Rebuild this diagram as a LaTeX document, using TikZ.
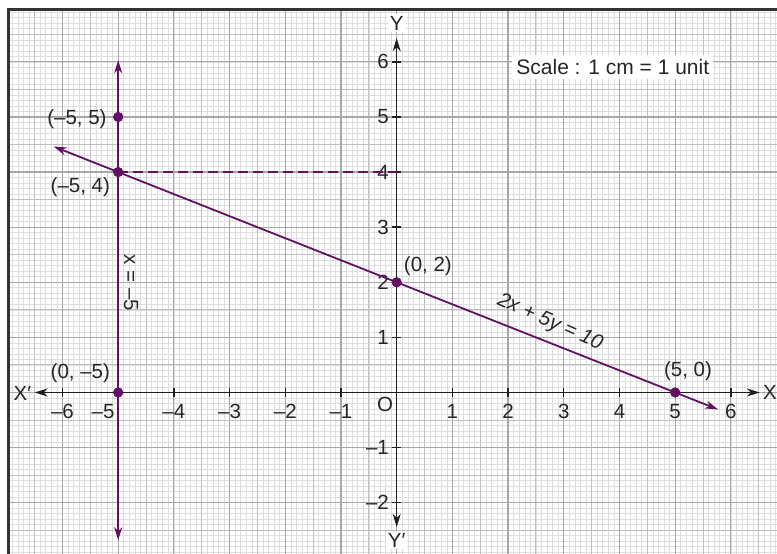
\documentclass[tikz,border=0pt]{standalone}
\usepackage{fontspec}
\setmainfont{Liberation Sans}
\usetikzlibrary{arrows.meta}
\definecolor{pur}{RGB}{98,16,98}
\definecolor{gminor}{RGB}{222,222,222}
\definecolor{gmid}{RGB}{192,192,192}
\definecolor{gmajor}{RGB}{168,168,168}
\definecolor{frame}{RGB}{50,50,50}
\begin{document}
\begin{tikzpicture}[x=55.7pt,y=55.1pt,
  lbl/.style={font=\fontsize{20.5}{24}\selectfont, inner sep=1pt, text=black!85},
  dot/.style={circle, fill=pur, inner sep=0pt, minimum size=10pt},
  arrb/.style={{Stealth[length=13pt,width=8pt,inset=4pt]}-{Stealth[length=13pt,width=8pt,inset=4pt]}},
  purline/.style={pur, line width=1.8pt},
  axisline/.style={black!88, line width=1.6pt},
  tickline/.style={black!88, line width=1.4pt},
]
\useasboundingbox (-7.122,-2.931) rectangle (6.828,7.123);
% graph paper
\begin{scope}
\clip (-6.97,-2.931) rectangle (6.828,6.95);
\draw[gminor, line width=0.6pt, step=0.1] (-7,-3) grid (7,7);
\draw[gmid, line width=0.9pt, step=0.5] (-7,-3) grid (7,7);
\draw[gmajor, line width=1.2pt, step=1] (-7,-3) grid (7,7);
\end{scope}
\draw[frame, line width=2.4pt] (-6.97,-2.931) -- (-6.97,6.95) -- (6.828,6.95);

% axes
\coordinate (xl) at (-6.5,0);
\coordinate (xr) at (6.52,0);
\coordinate (yt) at (0,6.43);
\coordinate (yb) at (0,-2.44);
\draw[axisline, arrb] (xl) -- (xr);
\draw[axisline, arrb] (yb) -- (yt);
\foreach \i in {-6,-5,-4,-3,-2,-1,1,2,3,4,5,6}
  \draw[tickline] (\i,-0.08) -- (\i,0.08);
\foreach \j in {-2,-1,1,2,3,4,5,6}
  \draw[tickline] (-0.08,\j) -- (0.08,\j);

% tick labels
\foreach \i/\t in {-6/–6,-4/–4,-3/–3,-2/–2,-1/–1,1/1,2/2,3/3,4/4,5/5,6/6}
  \node[lbl] (tx\i) at (\i,-0.35) {\t};
\node[lbl] (tx-5) at (-5.27,-0.35) {–5};
\foreach \j/\t in {-2/–2,-1/–1,1/1,2/2,3/3,4/4,5/5,6/6}
  \node[lbl, anchor=east] (ty\j) at (-0.12,\j) {\t};
\node[lbl] (O) at (-0.21,-0.22) {O};

% axis names
\node[lbl] (X) at (6.7,0) {X};
\node[lbl] (Xp) at (-6.72,-0.02) {X′};
\node[lbl, fill=white, inner sep=2pt] (Y) at (0,6.7) {Y};
\node[lbl, fill=white, inner sep=2pt] (Yp) at (0,-2.68) {Y′};

% scale
\node[lbl, fill=white, inner sep=4pt, font=\fontsize{21}{25}\selectfont] (scale) at (3.88,5.91) {Scale : 1 cm = 1 unit};

% points
\node[dot] (p55) at (-5,5) {};
\node[dot] (p54) at (-5,4) {};
\node[dot] (p02) at (0,2) {};
\node[dot] (p50) at (5,0) {};
\node[dot] (p05) at (-5,0) {};
\coordinate (d04) at (0,4);

% lines
\coordinate (vt) at (-5,6.03);
\coordinate (vb) at (-5,-2.68);
\coordinate (lL) at (-6.16,4.464);
\coordinate (lR) at (5.77,-0.308);
\draw[purline, dash pattern=on 10pt off 5pt] (p54.center) -- (d04);
\draw[purline, arrb] (vb) -- (vt);
\draw[purline, arrb] (lL) -- (lR);

% redraw dots on top
\foreach \p in {p55,p54,p02,p50,p05}
  \fill[pur] (\p.center) circle[radius=5pt];

% labels
\node[lbl] (l55) at (-5.74,4.96) {(–5, 5)};
\node[lbl] (l54) at (-5.68,3.72) {(–5, 4)};
\node[lbl] (l02) at (0.56,2.30) {(0, 2)};
\node[lbl] (l50) at (5.23,0.39) {(5, 0)};
\node[lbl] (l05) at (-5.68,0.35) {(0, –5)};
\node[lbl, rotate=-90] (lx) at (-4.77,1.99) {x = –5};
\node[lbl, rotate=-24, font=\fontsize{20.5}{24}\selectfont\itshape] (leq) at (2.75,1.27) {2x + 5y = 10};
\end{tikzpicture}
\end{document}
